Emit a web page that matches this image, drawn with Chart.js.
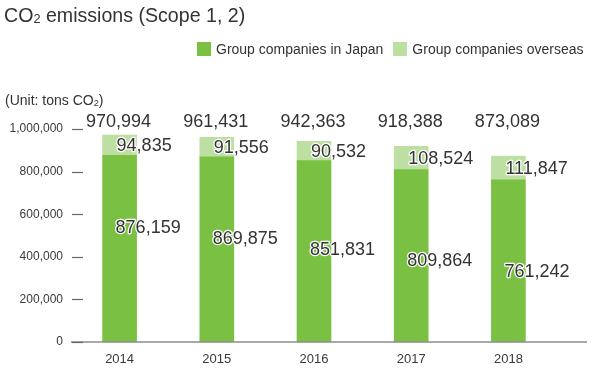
<!DOCTYPE html>
<html>
<head>
<meta charset="utf-8">
<script src="https://cdn.jsdelivr.net/npm/chart.js@4/dist/chart.umd.min.js"></script>
<style>
  html, body { margin: 0; padding: 0; background: #fff; }
  #wrap { position: relative; width: 615px; height: 381px; font-family: "Liberation Sans", Arial, Helvetica, sans-serif; color: #333; }
  #wrap canvas { position: absolute; left: 0; top: 0; }
  .title { position: absolute; left: 4px; top: 4px; font-size: 19.6px; line-height: 22px; white-space: nowrap; }
  .unit { position: absolute; left: 5px; top: 92px; font-size: 14px; line-height: 16px; white-space: nowrap; }
  .legend { position: absolute; left: 197px; top: 41px; font-size: 14px; line-height: 16px; white-space: nowrap; display: flex; align-items: center; }
  .legend .sw { display: inline-block; width: 14px; height: 14px; margin-right: 5px; }
  .legend .item { display: flex; align-items: center; margin-right: 10px; }
  sub { font-size: 0.65em; vertical-align: baseline; position: relative; top: 0.1em; }
</style>
</head>
<body>
<div id="wrap">
  <canvas id="c" width="615" height="381"></canvas>
  <div class="title">CO<sub>2</sub> emissions (Scope 1, 2)</div>
  <div class="legend">
    <span class="item"><span class="sw" style="background:#7AC143"></span>Group companies in Japan</span>
    <span class="item"><span class="sw" style="background:#BDE0A2"></span>Group companies overseas</span>
  </div>
  <div class="unit">(Unit: tons CO<sub>2</sub>)</div>
</div>
<script>
const years = ["2014", "2015", "2016", "2017", "2018"];
const japan = [876159, 869875, 851831, 809864, 761242];
const overseas = [94835, 91556, 90532, 108524, 111847];
const totals = [970994, 961431, 942363, 918388, 873089];
const seriesNames = ["Group companies in Japan", "Group companies overseas"];
const yTicks = [0, 200000, 400000, 600000, 800000, 1000000];

const fmt = v => v.toLocaleString("en-US");

const decor = {
  id: "decor",
  afterDatasetsDraw(chart) {
    const ctx = chart.ctx;
    const ca = chart.chartArea;
    const ys = chart.scales.y;
    ctx.save();
    // x axis line
    ctx.strokeStyle = "#8c8c8c";
    ctx.lineWidth = 1.5;
    ctx.beginPath();
    ctx.moveTo(ca.left, ys.getPixelForValue(0));
    ctx.lineTo(ca.left + 516, ys.getPixelForValue(0));
    ctx.stroke();
    // y tick dashes
    ctx.strokeStyle = "#666";
    ctx.lineWidth = 1.2;
    yTicks.forEach(t => {
      const y = Math.round(ys.getPixelForValue(t)) + 0.5;
      ctx.beginPath();
      ctx.moveTo(ca.left + 1, y);
      ctx.lineTo(ca.left + 12, y);
      ctx.stroke();
    });
    // value labels
    const mJ = chart.getDatasetMeta(0);
    const mO = chart.getDatasetMeta(1);
    ctx.font = "18px 'Liberation Sans', Arial, sans-serif";
    ctx.textBaseline = "middle";
    ctx.lineJoin = "round";
    const put = (txt, x, y, align) => {
      ctx.textAlign = align;
      ctx.strokeStyle = "#fff";
      ctx.lineWidth = 2.5;
      ctx.strokeText(txt, x, y);
      ctx.fillStyle = "#333";
      ctx.fillText(txt, x, y);
    };
    years.forEach((_, i) => {
      const bj = mJ.data[i];
      const bo = mO.data[i];
      put(fmt(totals[i]), bj.x - 1, ca.top - 7, "center");
      put(fmt(overseas[i]), bo.x - 3, (bo.y + bo.base) / 2 + 1, "left");
      put(fmt(japan[i]), bj.x - 4, ca.top + 99 + 11.1 * i, "left");
    });
    ctx.restore();
  }
};

new Chart(document.getElementById("c"), {
  type: "bar",
  data: {
    labels: years,
    datasets: [
      { label: seriesNames[0], data: japan, backgroundColor: "#7AC143", barThickness: 34 },
      { label: seriesNames[1], data: overseas, backgroundColor: "#BDE0A2", barThickness: 34 }
    ]
  },
  options: {
    responsive: false,
    animation: false,
    layout: { padding: { top: 129, right: 58, bottom: 0, left: 0 } },
    plugins: { legend: { display: false }, title: { display: false }, tooltip: { enabled: false } },
    scales: {
      x: {
        stacked: true,
        grid: { display: false },
        border: { display: false },
        ticks: { color: "#3a3a3a", font: { size: 13, family: "'Liberation Sans', Arial, sans-serif" }, padding: 2 },
        afterFit(s) { s.height = 39; }
      },
      y: {
        stacked: true,
        min: 0,
        max: 1000000,
        afterBuildTicks(s) { s.ticks = yTicks.map(v => ({ value: v })); },
        grid: { display: false, drawTicks: false },
        border: { display: false },
        ticks: { color: "#3a3a3a", font: { size: 12, family: "'Liberation Sans', Arial, sans-serif" }, padding: 8, callback: v => fmt(v) },
        afterFit(s) { s.width = 71; }
      }
    }
  },
  plugins: [decor]
});
</script>
</body>
</html>
